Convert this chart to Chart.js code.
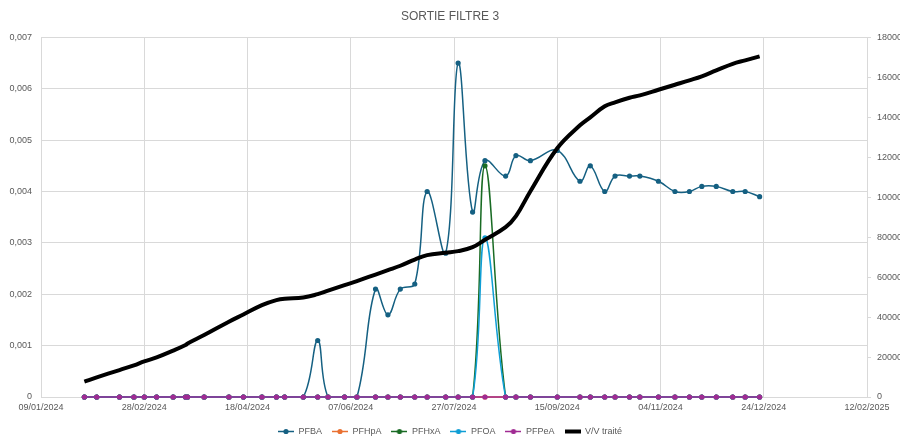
<!DOCTYPE html>
<html>
<head>
<meta charset="utf-8">
<script src="https://cdn.jsdelivr.net/npm/chart.js@4.4.0/dist/chart.umd.min.js"></script>
<style>
    html, body { margin: 0; padding: 0; background: #fff; overflow: hidden; }
</style>
</head>
<body>
<canvas id="filtreChart" width="900" height="440"></canvas>

<script>
    // dates de prélèvement
    const dates = [
        '30/01/2024', '05/02/2024', '16/02/2024', '23/02/2024', '28/02/2024', '05/03/2024',
        '13/03/2024', '19/03/2024', '20/03/2024', '28/03/2024', '09/04/2024', '16/04/2024',
        '25/04/2024', '02/05/2024', '06/05/2024', '15/05/2024', '22/05/2024', '27/05/2024',
        '04/06/2024', '10/06/2024', '19/06/2024', '25/06/2024', '01/07/2024', '08/07/2024',
        '14/07/2024', '23/07/2024', '29/07/2024', '05/08/2024', '11/08/2024', '21/08/2024',
        '26/08/2024', '02/09/2024', '15/09/2024', '26/09/2024', '01/10/2024', '08/10/2024',
        '13/10/2024', '20/10/2024', '25/10/2024', '03/11/2024', '11/11/2024', '18/11/2024',
        '24/11/2024', '01/12/2024', '09/12/2024', '15/12/2024', '22/12/2024'
    ]
    const pfba = [
        0, 0, 0, 0, 0, 0,
        0, 0, 0, 0, 0, 0,
        0, 0, 0, 0, 0.0011, 0,
        0, 0, 0.0021, 0.0016, 0.0021, 0.0022,
        0.0040, 0.0028, 0.0065, 0.0036, 0.0046, 0.0043,
        0.0047, 0.0046, 0.0048, 0.0042, 0.0045, 0.0040,
        0.0043, 0.0043, 0.0043, 0.0042, 0.0040, 0.0040,
        0.0041, 0.0041, 0.0040, 0.0040, 0.0039
    ]
    const pfhpa = dates.map(() => 0)
    const pfhxa = [
        0, 0, 0, 0, 0, 0, 0, 0, 0, 0, 0, 0, 0, 0, 0, 0, 0, 0, 0, 0, 0, 0, 0, 0,
        0, 0, 0, 0, 0.0045, 0, 0, 0, 0, 0, 0, 0, 0, 0, 0, 0, 0, 0, 0, 0, 0, 0, 0
    ]
    const pfoa = [
        0, 0, 0, 0, 0, 0, 0, 0, 0, 0, 0, 0, 0, 0, 0, 0, 0, 0, 0, 0, 0, 0, 0, 0,
        0, 0, 0, 0, 0.0031, 0, 0, 0, 0, 0, 0, 0, 0, 0, 0, 0, 0, 0, 0, 0, 0, 0, 0
    ]
    const pfpea = dates.map(() => 0)
    const vvTraite = [
        7700, 9800, 13500, 15800, 17800, 19800,
        23200, 26000, 26800, 31000, 37700, 41300,
        46000, 48500, 49200, 49800, 51500, 53200,
        56000, 58000, 61300, 63500, 65700, 68800,
        71000, 72200, 73000, 75000, 78700, 85000,
        90500, 103000, 124500, 136000, 140000, 145500,
        147500, 149800, 151000, 153800, 156300, 158500,
        160500, 163500, 166800, 168500, 170500
    ]
    const leftTicks = { min: 0, max: 0.007, step: 0.001 }
    const rightTicks = { min: 0, max: 180000, step: 20000 }
    const dayTicks = { min: 0, max: 400, step: 50 }

    const start = Date.UTC(2024, 0, 9)
    const textColor = '#595959'
    const gridColor = '#d9d9d9'

    function dayOf(s) {
        const [d, m, y] = s.split('/').map(Number)
        return Math.round((Date.UTC(y, m - 1, d) - start) / 864e5)
    }
    function pad(n) { return String(n).padStart(2, '0') }
    function fmtDay(n) {
        const t = new Date(start + n * 864e5)
        return pad(t.getUTCDate()) + '/' + pad(t.getUTCMonth() + 1) + '/' + t.getUTCFullYear()
    }
    const days = dates.map(dayOf)
    function pts(values) {
        return values.map((v, i) => ({ x: days[i], y: v }))
    }

    // petite icône de légende : trait + point
    function legendIcon(color, width, dot) {
        const c = document.createElement('canvas')
        c.width = 16
        c.height = 9
        const ctx = c.getContext('2d')
        ctx.strokeStyle = color
        ctx.lineWidth = width
        ctx.beginPath()
        ctx.moveTo(0, 4.5)
        ctx.lineTo(16, 4.5)
        ctx.stroke()
        if (dot) {
            ctx.fillStyle = color
            ctx.beginPath()
            ctx.arc(8, 4.5, 2.6, 0, Math.PI * 2)
            ctx.fill()
        }
        return c
    }

    function serie(label, values, color, order) {
        return {
            label: label,
            data: pts(values),
            borderColor: color,
            backgroundColor: color,
            borderWidth: 1.5,
            pointRadius: 2.6,
            pointHoverRadius: 2.6,
            pointBorderWidth: 0,
            pointBackgroundColor: color,
            tension: 0.4,
            clip: 4,
            yAxisID: 'y',
            order: order
        }
    }

    Chart.defaults.font.family = '"Liberation Sans", Arial, sans-serif'
    Chart.defaults.color = textColor

    new Chart(document.getElementById('filtreChart'), {
        type: 'line',
        data: {
            datasets: [
                serie('PFBA', pfba, '#156082', 6),
                serie('PFHpA', pfhpa, '#E97132', 5),
                serie('PFHxA', pfhxa, '#196B24', 4),
                serie('PFOA', pfoa, '#0F9ED5', 3),
                serie('PFPeA', pfpea, '#A02B93', 2),
                {
                    label: 'V/V traité',
                    data: pts(vvTraite),
                    borderColor: '#000000',
                    backgroundColor: '#000000',
                    borderWidth: 4,
                    pointRadius: 0,
                    pointHoverRadius: 0,
                    tension: 0.4,
                    yAxisID: 'y2',
                    order: 1
                }
            ]
        },
        options: {
            responsive: false,
            animation: false,
            layout: { padding: { top: 0, left: 0, right: 0, bottom: -6 } },
            plugins: {
                title: {
                    display: true,
                    text: 'SORTIE FILTRE 3',
                    color: textColor,
                    font: { size: 12, weight: 'normal' },
                    padding: { top: 9, bottom: 14 }
                },
                legend: {
                    position: 'bottom',
                    labels: {
                        usePointStyle: true,
                        pointStyleWidth: 16,
                        padding: 10,
                        color: textColor,
                        font: { size: 9 },
                        generateLabels: chart => chart.data.datasets.map((ds, i) => ({
                            text: ds.label,
                            fillStyle: ds.borderColor,
                            strokeStyle: ds.borderColor,
                            lineWidth: 0,
                            pointStyle: legendIcon(ds.borderColor, ds.borderWidth, ds.pointRadius > 0),
                            hidden: !chart.isDatasetVisible(i),
                            datasetIndex: i,
                            fontColor: textColor
                        }))
                    }
                },
                tooltip: { enabled: false }
            },
            scales: {
                x: {
                    type: 'linear',
                    min: dayTicks.min,
                    max: dayTicks.max,
                    ticks: {
                        stepSize: dayTicks.step,
                        callback: v => fmtDay(v),
                        color: textColor,
                        font: { size: 9 },
                        padding: 5,
                        maxRotation: 0,
                        autoSkip: false
                    },
                    grid: { color: gridColor, drawTicks: false },
                    border: { display: false },
                    afterFit: s => { s.height = 20 }
                },
                y: {
                    position: 'left',
                    min: leftTicks.min,
                    max: leftTicks.max,
                    ticks: {
                        stepSize: leftTicks.step,
                        callback: v => v === 0 ? '0' : v.toFixed(3).replace('.', ','),
                        color: textColor,
                        font: { size: 9 },
                        padding: 9
                    },
                    grid: { color: gridColor, drawTicks: false },
                    border: { display: false },
                    afterFit: s => { s.width = 41 }
                },
                y2: {
                    position: 'right',
                    min: rightTicks.min,
                    max: rightTicks.max,
                    ticks: {
                        stepSize: rightTicks.step,
                        callback: v => String(v),
                        color: textColor,
                        font: { size: 9 },
                        padding: 6
                    },
                    grid: { drawOnChartArea: false, color: gridColor, tickLength: 4 },
                    border: { display: true, color: gridColor },
                    afterFit: s => { s.width = 33 }
                }
            }
        }
    })
</script>
</body>
</html>
